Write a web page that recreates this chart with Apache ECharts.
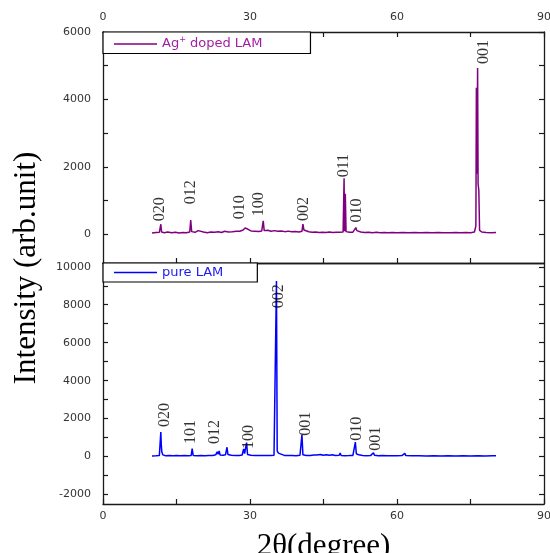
<!DOCTYPE html>
<html>
<head>
<meta charset="utf-8">
<script src="https://cdn.jsdelivr.net/npm/echarts@6/dist/echarts.min.js"></script>
<style>html,body{margin:0;padding:0;background:#fff}#c{width:550px;height:553px}</style>
</head>
<body>
<div id="c"></div>
<script>
// ---- data ----
var agName = 'Ag+ doped LAM';
var pureName = 'pure LAM';

// Ag+ doped LAM pattern: [2theta, intensity]
var agData = [
[10.0,40],[10.8,55],[11.5,60],[11.7,70],[11.8,300],[11.95,70],[12.5,50],[13.2,70],[14,45],[14.8,60],[15.5,40],[16.3,55],[17.0,50],[17.7,70],[17.9,420],[18.1,80],[18.8,60],[19.4,110],[19.7,60],[20.5,70],[21.3,50],[22.0,70],[22.8,60],[23.5,75],[24.2,55],[24.8,90],[25.2,140],[25.6,70],[26.4,80],[27.2,95],[27.9,90],[28.6,130],[29.0,190],[29.3,230],[29.6,150],[30.2,100],[31.0,95],[31.8,85],[32.4,100],[32.7,400],[32.9,110],[33.6,120],[34.3,90],[35.0,110],[35.7,90],[36.4,100],[37.1,80],[37.8,95],[38.5,75],[39.2,85],[40.0,70],[40.6,90],[40.8,300],[41.0,130],[41.4,90],[42.0,75],[42.7,60],[43.4,70],[44.1,55],[44.8,65],[45.5,55],[46.2,70],[46.9,55],[47.6,65],[48.3,60],[49.0,70],[49.2,1660],[49.3,90],[49.45,1200],[49.6,80],[50.3,60],[51.0,65],[51.4,90],[51.6,200],[51.8,110],[52.2,120],[52.6,70],[53.4,55],[54.2,60],[55.0,50],[55.8,60],[56.6,50],[57.4,55],[58.2,50],[59.0,55],[60.0,50],[61.2,55],[62.4,50],[63.6,55],[64.8,50],[66.0,55],[67.2,50],[68.4,55],[69.6,50],[70.8,50],[72.0,55],[73.0,50],[74.0,55],[75.0,50],[75.8,70],[76.1,250],[76.2,4350],[76.3,1800],[76.45,4930],[76.55,1500],[76.7,1300],[76.85,120],[77.3,70],[78.2,55],[79.2,50],[80.2,55]
];

// pure LAM pattern: [2theta, intensity]
var pureData = [
[10.0,30],[10.8,40],[11.5,50],[11.7,80],[11.8,1290],[11.9,600],[12.0,250],[12.2,90],[12.8,45],[13.5,60],[14.3,40],[15.0,50],[15.8,40],[16.6,50],[17.4,45],[18.0,60],[18.2,425],[18.4,60],[19.2,45],[20.0,55],[20.8,40],[21.6,55],[22.4,60],[23.0,90],[23.3,250],[23.5,120],[23.7,300],[23.9,80],[24.5,70],[25.0,90],[25.3,490],[25.5,110],[26.2,70],[27.0,60],[27.8,55],[28.4,80],[28.7,400],[28.9,150],[29.3,740],[29.5,110],[30.2,70],[31.0,55],[31.8,60],[32.6,50],[33.4,60],[34.2,55],[34.9,70],[35.2,150],[35.4,9250],[35.55,300],[35.8,180],[36.2,90],[37.0,60],[37.8,50],[38.6,55],[39.4,45],[40.2,70],[40.6,1150],[40.8,90],[41.5,60],[42.3,55],[43.0,80],[43.3,180],[43.6,80],[44.4,110],[44.9,70],[45.6,100],[46.2,70],[46.8,90],[47.4,60],[48.2,70],[48.4,190],[48.6,60],[49.4,45],[50.2,50],[51.0,60],[51.3,120],[51.5,760],[51.7,150],[52.2,90],[53.0,60],[53.8,45],[54.6,50],[55.0,80],[55.2,200],[55.4,70],[56.2,45],[57.0,50],[58.0,40],[59.0,45],[60.0,40],[61.0,50],[61.4,70],[61.6,170],[61.8,50],[63.0,40],[64.5,45],[66.0,35],[67.5,40],[69.0,35],[70.5,40],[72.0,35],[73.5,40],[75.0,35],[76.5,45],[78.0,35],[79.5,40],[80.2,40]
];

// peak (hkl) labels: 2theta, intensity at label base, text
var agPeakTheta = [11.5, 18.0, 28.0, 31.8, 41.0, 49.2, 51.8, 77.8];
var agPeakLabelY = [360, 860, 415, 505, 365, 1660, 325, 5020];
var agPeakNames = ['020', '012', '010', '100', '002', '011', '010', '001'];

var purePeakTheta = [12.7, 18.0, 22.8, 29.7, 35.9, 41.4, 51.8, 55.6];
var purePeakLabelY = [1500, 605, 605, 340, 7760, 1040, 780, 250];
var purePeakNames = ['020', '101', '012', '100', '002', '001', '010', '001'];

// axis ticks
var xTicks = [0, 15, 30, 45, 60, 75, 90];
var xLabels = [0, 30, 60, 90];
var agYTicks = [0, 1000, 2000, 3000, 4000, 5000, 6000];
var agYLabels = [0, 2000, 4000, 6000];
var pureYTicks = [-2000, -1000, 0, 1000, 2000, 3000, 4000, 5000, 6000, 7000, 8000, 9000, 10000];
var pureYLabels = [-2000, 0, 2000, 4000, 6000, 8000, 10000];

var xAxisName = '2θ(degree)';
var yAxisName = 'Intensity (arb.unit)';

// ---- chart ----
var agColor = '#800080', agText = '#a21ea2';
var pureColor = '#0000ff', pureText = '#1a1aee';
var axisColor = '#1a1a1a';

function labelPts(th, ys, names) {
  return th.map(function (t, i) { return [t, ys[i], names[i]]; });
}

var tickLabelStyle = { fontFamily: 'DejaVu Sans', fontSize: 11, color: '#333',
  formatter: function (v) { return String(v); } };

function xAx(grid, pos, showLabel, showTick, tickVals) {
  return {
    type: 'value', gridIndex: grid, position: pos, min: 0, max: 90,
    axisLine: { show: true, onZero: false, lineStyle: { color: axisColor, width: 1.3 } },
    axisTick: { show: showTick, inside: true, length: 5, customValues: tickVals, lineStyle: { color: axisColor, width: 1.2 } },
    axisLabel: Object.assign({ show: showLabel, customValues: xLabels, margin: pos === 'top' ? 9 : 7 }, tickLabelStyle),
    splitLine: { show: false }
  };
}
function yAx(grid, pos, mn, mx, ticks, labels) {
  return {
    type: 'value', gridIndex: grid, position: pos, min: mn, max: mx,
    axisLine: { show: true, onZero: false, lineStyle: { color: axisColor, width: 1.3 } },
    axisTick: { show: true, inside: true, length: 5, customValues: ticks, lineStyle: { color: axisColor, width: 1.2 } },
    axisLabel: Object.assign({ show: !!labels, customValues: labels || [], margin: 12 }, tickLabelStyle),
    splitLine: { show: false }
  };
}

var peakLabel = {
  show: true, position: 'top', distance: 1, rotate: 90, align: 'left', verticalAlign: 'middle',
  fontFamily: 'Liberation Serif', fontSize: 16, color: '#000',
  formatter: function (p) { return p.value[2]; }
};

var chart = echarts.init(document.getElementById('c'), null, { renderer: 'canvas' });
chart.setOption({
  animation: false,
  backgroundColor: '#fff',
  grid: [
    { left: 103, top: 32, width: 441, height: 231, containLabel: false, outerBoundsMode: 'none' },
    { left: 103, top: 263, width: 441, height: 241, containLabel: false, outerBoundsMode: 'none' }
  ],
  xAxis: [
    xAx(0, 'top', true, true, xTicks),
    xAx(0, 'bottom', false, true, [15, 30, 45, 60, 75]),
    xAx(1, 'top', false, false, []),
    Object.assign(xAx(1, 'bottom', true, true, xTicks), {
      name: xAxisName, nameLocation: 'middle', nameGap: 27,
      nameTextStyle: { fontFamily: 'Liberation Serif', fontSize: 31, color: '#000' }
    })
  ],
  yAxis: [
    yAx(0, 'left', -850, 6000, agYTicks, agYLabels),
    yAx(0, 'right', -850, 6000, agYTicks, null),
    yAx(1, 'left', -2500, 10200, pureYTicks, pureYLabels),
    yAx(1, 'right', -2500, 10200, pureYTicks, null)
  ],
  legend: [
    {
      data: [{ name: agName, icon: 'rect' }], left: 103, top: 32, orient: 'horizontal',
      itemWidth: 43, itemHeight: 1.6, padding: [4, 48, 3, 11],
      borderColor: '#000', borderWidth: 1.2, borderRadius: 0, backgroundColor: '#fff',
      selectedMode: false,
      itemStyle: { color: agColor },
      formatter: function () { return 'Ag{sup|+} doped LAM'; },
      textStyle: { color: agText, fontFamily: 'DejaVu Sans', fontSize: 13,
        rich: { sup: { fontSize: 8, color: agText, verticalAlign: 'top', padding: [0, 0, 8, 0] } } }
    },
    {
      data: [{ name: pureName, icon: 'rect' }], left: 103, top: 263, orient: 'horizontal',
      itemWidth: 43, itemHeight: 1.6, padding: [3, 34, 3, 11],
      borderColor: '#000', borderWidth: 1.2, borderRadius: 0, backgroundColor: '#fff',
      selectedMode: false,
      itemStyle: { color: pureColor },
      textStyle: { color: pureText, fontFamily: 'DejaVu Sans', fontSize: 13 }
    }
  ],
  graphic: [{
    type: 'text', x: 27, y: 268, rotation: Math.PI / 2, silent: true,
    style: { text: yAxisName, fontFamily: 'Liberation Serif', fontSize: 31, fill: '#000',
      textAlign: 'center', textVerticalAlign: 'middle' }
  }],
  series: [
    {
      name: agName, type: 'line', xAxisIndex: 1, yAxisIndex: 0, data: agData,
      symbol: 'none', showSymbol: false, silent: true,
      lineStyle: { color: agColor, width: 1.5 }, itemStyle: { color: agColor }, z: 3
    },
    {
      name: pureName, type: 'line', xAxisIndex: 3, yAxisIndex: 2, data: pureData,
      symbol: 'none', showSymbol: false, silent: true,
      lineStyle: { color: pureColor, width: 1.5 }, itemStyle: { color: pureColor }, z: 3
    },
    {
      type: 'scatter', xAxisIndex: 1, yAxisIndex: 0, symbolSize: 0, silent: true,
      data: labelPts(agPeakTheta, agPeakLabelY, agPeakNames), label: peakLabel, z: 4
    },
    {
      type: 'scatter', xAxisIndex: 3, yAxisIndex: 2, symbolSize: 0, silent: true,
      data: labelPts(purePeakTheta, purePeakLabelY, purePeakNames), label: peakLabel, z: 4
    }
  ]
});
</script>
</body>
</html>
